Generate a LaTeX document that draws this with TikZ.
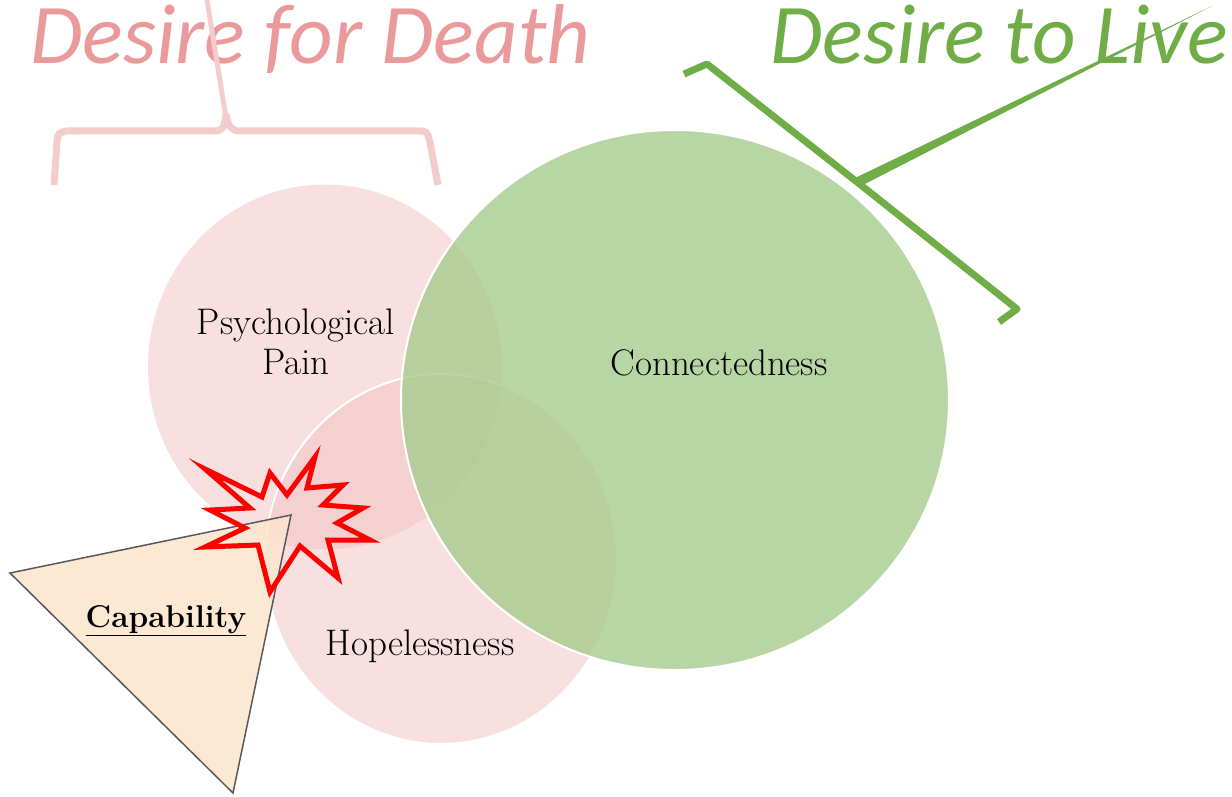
\documentclass[tikz,border=0pt]{standalone}
\usepackage{fontspec}
\newfontfamily\titlefont{Carlito}
\usetikzlibrary{positioning}
\usetikzlibrary{calc}
\usetikzlibrary{shapes.geometric}

\definecolor{deathpink}{HTML}{EA9A9A}
\definecolor{bracepink}{HTML}{F4CCCC}
\definecolor{blobpink}{HTML}{F1C1C1}
\definecolor{livegreen}{HTML}{70AD47}
\definecolor{blobgreen}{HTML}{A6CC8D}
\definecolor{capfill}{HTML}{FCE5CD}
\definecolor{capedge}{HTML}{595959}

\begin{document}
\begin{tikzpicture}[x=1pt,y=-1pt,
    pinkblob/.style={ellipse, inner sep=0pt, fill=blobpink, fill opacity=0.5},
    greenblob/.style={ellipse, inner sep=0pt, fill=blobgreen, fill opacity=0.8, draw=white, draw opacity=1, line width=2},
    bodytext/.style={inner sep=0pt, text=black, font=\fontsize{37}{40}\selectfont},
    titletext/.style={anchor=base west, inner sep=0pt, font=\titlefont\itshape\fontsize{85}{90}\selectfont},
  ]

  \useasboundingbox (0,0) rectangle (1232,797);

  % circles
  \node [pinkblob, minimum width=354, minimum height=365] (PAINC) at (325,367) {};
  \node [pinkblob, draw=white, draw opacity=1, line width=2, minimum width=352, minimum height=370] (HOPEC) at (441,559) {};
  \node [greenblob, minimum width=548, minimum height=540] (CONNC) at (675,400) {};

  \node [bodytext, align=center] (PAIN) at (296,342) {Psychological\\Pain};
  \node [bodytext] (CONN) at (719,363) {Connectedness};
  \node [bodytext] (HOPE) at (420,646) {Hopelessness};

  % capability triangle
  \coordinate (T1) at (10,573);
  \coordinate (T2) at (291,515);
  \coordinate (T3) at (233,793);
  \draw [capedge, line width=1.5, fill=capfill, fill opacity=0.85] (T1) -- (T2) -- (T3) -- cycle;
  \node [bodytext, font=\bfseries\fontsize{31.5}{34}\selectfont] (CAP) at (166,621) {\underline{Capability}};

  % burst
  \draw [red, line width=5, miter limit=20] (205,469) -- (262,497) -- (270,473) -- (287,495) -- (315,457) -- (307,488)
    -- (343,485) -- (323,505) -- (363,508) -- (337,523) -- (370,540) -- (328,540) -- (338,578)
    -- (300,546) -- (270,592) -- (258,545) -- (205,547) -- (245,528) -- (210,510) -- (250,508) -- cycle;

  % titles
  \node [titletext, text=deathpink] (DEATH) at (30,64) {Desire for Death};
  \node [titletext, text=livegreen] (LIVE) at (770,64) {Desire to Live};

  % braces
  \draw [bracepink, line width=7] (54,185) -- (57,142) .. controls (58,133) .. (67,131) -- (215,131)
    .. controls (223,131) and (225,126) .. (226,114);
  \draw [bracepink, line width=7] (226,114) .. controls (228,127) and (232,131) .. (240,131) -- (418,131)
    .. controls (427,131) .. (430,142) -- (438,185);
  \draw [bracepink, line width=5] (226,118) -- (207,0);

  \draw [livegreen, line width=7, line join=round] (684,74) -- (707,64) -- (857,182) -- (1017,309) -- (999,322);
  \fill [livegreen] (855,178) -- (1212,6) -- (859,187) -- cycle;

\end{tikzpicture}
\end{document}
